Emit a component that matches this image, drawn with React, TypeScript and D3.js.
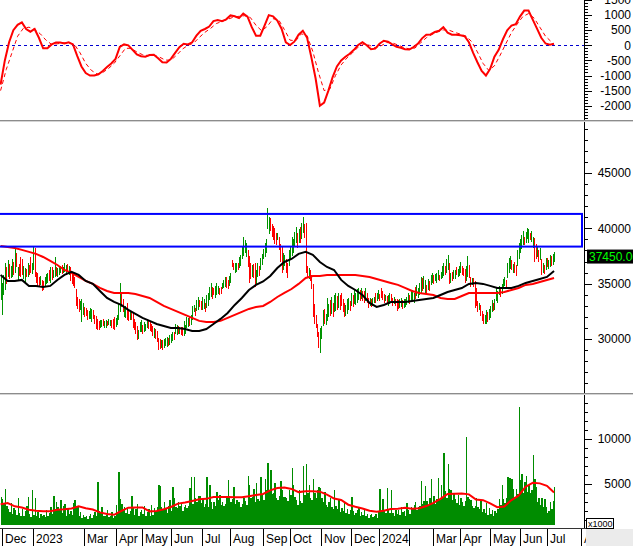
import React from "react";
import * as d3 from "d3";

// ---------- DATA ----------
// daily candles: lows / highs in hundreds of VND, direction g = up, r = down
const lows = [
  335,322,340,344,350,356,354,355,356,358, 360,365,353,357,356,358,354,351,356,356,
  358,360,359,362,356,351,347,347,349,343, 344,347,350,351,352,351,353,355,356,357,
  356,358,360,359,360,361,360,361,358,352, 350,348,346,330,327,324,326,315,322,320,
  321,317,318,318,315,318,314,309,308,308, 310,311,312,310,310,312,313,312,310,309,
  308,311,313,317,324,329,324,320,319,317, 316,317,317,310,308,305,299,300,306,306,
  305,306,307,310,309,307,306,303,301,300, 297,290,291,292,290,292,294,293,294,295,
  296,298,299,305,304,305,305,304,303,303, 305,310,311,312,313,317,324,321,325,326,
  329,326,326,327,324,328,330,335,338,336, 340,337,340,341,340,341,345,346,347,346,
  345,348,351,365,362,360,361,362,364,366, 372,375,378,374,365,351,354,356,355,347,
  350,356,357,362,367,372,374,378,399,395, 398,392,389,386,385,389,380,370,360,362,
  366,360,355,366,372,375,378,383,387,382, 387,387,390,396,391,360,355,354,352,345,
  320,314,310,302,292,287,300,312,314,313, 316,320,321,323,320,324,325,326,328,326,
  330,324,320,321,323,326,325,330,329,332, 331,333,335,334,336,334,333,334,333,328,
  330,329,330,333,333,334,336,334,337,335, 333,334,333,330,332,333,330,332,330,325,
  327,328,329,327,328,329,331,333,332,334, 335,333,336,339,337,340,342,343,345,341,
  342,344,343,349,351,350,352,351,353,352, 354,355,357,358,360,362,350,351,352,354,
  354,358,356,357,360,358,357,351,352,356, 355,347,349,347,328,330,324,326,321,316,
  314,314,314,315,317,319,324,325,326,334, 333,340,338,341,346,348,346,355,360,363,
  362,360,360,357,366,372,378,381,385,385, 387,390,387,389,388,382,370,372,374,370,
  371,358,360,359,362,365,363,365,366,367,370,
];
const highs = [
  356,351,358,369,365,371,368,366,372,370, 382,378,365,368,374,372,366,364,363,369,
  367,374,369,383,382,361,360,356,357,353, 352,356,359,360,362,365,365,362,374,365,
  364,366,366,367,365,369,367,368,366,365, 360,358,356,345,338,336,334,336,333,329,
  328,326,325,328,327,326,322,321,318,316, 317,317,318,316,317,316,318,317,317,318,
  320,319,322,333,351,342,336,329,330,333, 325,324,325,324,318,315,312,308,315,317,
  313,315,314,317,316,315,314,312,310,309, 307,301,300,299,299,300,301,302,301,304,
  305,306,306,314,313,312,311,311,311,316, 313,320,319,321,322,330,331,328,335,338,
  335,334,338,336,333,340,342,347,351,347, 346,348,351,348,346,347,351,353,356,356,
  353,357,360,371,369,369,369,369,374,376, 383,392,389,387,380,375,369,367,368,369,
  362,369,366,373,377,381,387,390,418,410, 409,404,402,400,396,396,392,386,383,378,
  376,372,369,380,384,392,390,397,401,396, 399,401,405,410,404,405,366,364,362,358,
  350,332,322,314,306,310,312,326,327,323, 337,332,335,338,333,340,342,339,342,340,
  342,336,333,331,336,337,334,342,340,344, 342,345,346,344,346,343,343,346,342,337,
  337,336,337,338,342,342,344,341,346,343, 341,340,339,340,342,341,337,338,336,336,
  335,336,337,335,336,336,338,342,340,343, 344,342,347,349,346,351,356,355,357,353,
  349,354,352,358,360,358,359,360,362,358, 361,366,369,366,372,376,369,360,361,362,
  362,365,363,366,370,366,364,363,366,375, 367,356,355,355,352,346,334,333,331,325,
  323,322,326,324,327,330,335,333,336,346, 343,348,345,350,354,356,353,369,373,375,
  371,368,370,367,380,387,390,394,398,392, 397,400,399,396,398,392,391,386,383,380,
  382,372,369,367,373,373,371,376,375,377,379,
];
const dirs =
  "ggggrgrggr" + "grgrrrggrg" + "rrggrrrrgr" + "rgggrgrggr" + "gggrgggrgr" +
  "rrrrrrgggr" + "rrgggrrrrr" + "ggrggrggrr" + "rggggrrggr" + "rgrrrrrggg" +
  "rgggrrrrgr" + "rrrgrgggrg" + "ggrggrgrrg" + "gggrgggrgg" + "rrggrggggr" +
  "rgggrrgggr" + "rggrrggrgg" + "ggggrrrgrr" + "ggrggggggg" + "rrrrrgrrrg" +
  "grrggggggr" + "grggrrrgrr" + "rrrrrgggrg" + "ggrgrggrgr" + "rrrgggrgrg" +
  "gggrgrrgrr" + "grggrggrrr" + "rgrggrrgrr" + "rggrggggrg" + "ggrggggrgg" +
  "rgrggrgggr" + "gggrggrgrg" + "grgggrrrgg" + "rrgrrrrgrr" + "rggrgggrgg" +
  "ggrgggrggg" + "rgrrgggggr" + "gggrggrrgr" + "grgrgrggrgg";
const lastClose = 37450;

// daily volume (x1000 shares)
const volumes = [
  3600,3300,2800,4500,2600,2200,1900,2900,1700,2300, 2100,1600,3500,1800,1500,2200,1400,2000,2600,3550,
  1700,1300,4330,1600,3500,1400,1900,1200,1700,1500, 1600,1300,2100,1500,1800,2400,1700,3650,2200,3000,
  2400,2100,3200,1800,2600,2800,1500,2200,1700,2000, 1600,2900,3200,2500,2600,1400,1900,1200,1600,1300,
  1500,1100,1400,1700,1200,1600,1900,1500,5200,2000, 1800,2500,1500,1400,1600,2100,1300,1500,1900,1200,
  1500,2700,1900,6360,3300,2800,2100,2500,1800,2200, 1700,2000,3700,2400,1600,2200,2800,1500,1900,2100,
  1700,2600,1500,1900,2200,1400,2700,1600,2300,1900, 2400,4890,4800,2500,2100,3000,2200,1800,2600,3200,
  2000,4660,3450,2500,2300,3000,2600,2900,2000,2400, 2700,2300,2600,4550,5770,2800,5810,3500,3000,3700,
  3700,2900,3400,2500,2800,5810,2400,4890,3000,2200, 3000,2600,4100,3200,3800,2700,3000,2600,2800,3400,
  5400,3700,3000,3300,4660,2800,3200,3000,3000,2500, 2800,3500,3100,2700,5920,4890,3500,3600,4400,3000,
  5070,3300,3100,5810,3800,3200,5600,4300,7290,4200, 6550,3900,4000,5100,3500,3200,3700,5370,4300,3600,
  3600,3400,3100,4300,3800,6770,4890,3600,3200,2700, 4300,3100,2900,7030,3800,7250,4000,4890,3500,3200,
  5550,4000,3500,4300,4700,4600,3500,3000,4100,2700, 2400,3000,3400,2500,2200,4330,2600,2200,3200,1900,
  2300,2000,3000,1800,2200,1700,2100,3580,2000,1600, 1800,2100,2500,1500,1900,1600,2100,1400,1700,1200,
  1600,1700,1300,1500,1700,1200,1900,4480,2000,3300, 2000,1800,4550,2200,1800,4280,1800,1500,2100,1700,
  2100,1600,2400,1900,2000,1500,2900,2100,1700,2500, 2200,2700,3000,2100,2500,2600,5370,2800,3100,4770,
  3100,2600,3500,5550,2900,3700,2800,3300,5700,3200, 4890,3600,8470,4200,3500,7250,4500,4300,3200,4000,
  3300,2900,3800,2700,3400,3000,2600,3100,10250,3600, 3300,3200,2600,2300,2550,3500,2400,2200,3200,1900,
  2200,1800,2900,1600,2300,1700,2100,1500,2000,1800, 2200,3300,2700,4880,3300,2900,3500,5810,5700,5700,
  5600,4440,3600,4400,3900,13570,5500,6140,4000,5200, 5900,4100,4900,4000,4300,8220,5600,4660,3030,3400,
  2700,3480,2500,3370,2400,1740,2000,3030,2200,3100,4630,
];

// moving averages, one value every 5 sessions
const maStep = 5;
const maBlack = [
  35790,35250,35250,35340,34800,34800,34710,34800,35340,35790,
  36060,35790,35250,34980,34340,33710,33350,33080,32630,32270,
  31910,31640,31360,31180,31000,31000,30910,30730,30730,30910,
  31360,31820,32360,33080,33710,34430,34890,35200,35700,36420,
  36960,37230,37690,37870,37600,36960,36510,36240,35340,34800,
  34430,33980,33260,32900,33080,33350,33350,33350,33440,33530,
  33620,33710,33980,34250,34430,34610,34980,35070,34980,34800,
  34610,34610,34610,34800,35070,35250,35430,35610,36150,
];
const maRed = [
  38410,38320,38230,38050,37870,37690,37410,37050,36690,36240,
  35970,35610,35250,34980,34620,34340,34160,34160,34160,34070,
  33890,33710,33350,32990,32720,32450,32180,31910,31640,31550,
  31550,31640,31910,32180,32450,32720,32900,32990,33350,33800,
  34160,34520,34980,35520,35700,35700,35790,35790,35790,35790,
  35790,35700,35610,35430,35250,35070,34890,34620,34340,34160,
  34070,33980,33710,33620,33620,33890,34160,34160,34160,34160,
  34160,34250,34430,34610,34890,34980,35160,35340,35520,
];
const volMa = [
  2750,2880,2520,2380,2150,2030,1980,1980,2150,2200,
  2280,2520,2300,2160,1850,1660,1580,2000,2370,2400,
  2400,1960,2000,2200,2450,2820,2950,3120,3310,3350,
  3550,3560,3550,3540,3540,3650,3770,3890,4300,4550,
  4600,4450,4100,4200,4200,4150,3830,3380,3220,2700,
  2480,2280,2020,1920,2030,2220,2260,2350,2240,2300,
  2550,2900,3350,3900,3930,3950,3850,3280,3200,2850,
  2420,2500,3220,3700,4700,5130,5070,4800,4050,
];

// oscillator (top panel): one value every 3 sessions, signal every 4
const oscStep = 3;
const oscillator = [
  -1300,-500,100,500,680,760,540,450,540,250,
  -100,-100,30,90,90,60,100,30,-350,-700,
  -920,-1000,-1000,-960,-850,-720,-600,-450,-50,30,
  0,-150,-300,-360,-380,-320,-310,-430,-560,-570,
  -450,-250,-60,50,30,100,320,480,540,620,
  800,840,800,860,990,960,900,1050,950,600,
  320,320,650,1000,960,820,550,100,10,120,
  350,480,250,-400,-1100,-2000,-1900,-1500,-1050,-700,
  -500,-380,-280,-150,10,100,0,-130,-110,50,
  150,120,30,-50,-80,-130,-140,-60,50,230,
  350,360,440,480,600,420,350,350,330,300,
  100,-250,-560,-850,-1000,-780,-380,-150,200,500,
  650,700,950,1150,1150,850,550,250,60,20,
  50,
];
const sigStep = 4;
const signal = [
  -1500,-800,-250,300,560,600,520,380,170,30,
  50,80,80,30,-250,-600,-830,-950,-900,-770,
  -600,-350,-100,-100,-220,-310,-340,-330,-390,-490,
  -490,-330,-130,0,70,260,430,560,720,790,
  860,930,960,980,920,660,480,630,880,840,
  520,170,150,380,320,-200,-900,-1500,-1450,-1000,
  -650,-420,-250,-60,40,0,-90,-20,90,80,
  10,-70,-120,-90,80,250,360,440,510,500,
  430,370,300,120,-220,-600,-830,-680,-330,50,
  420,700,950,1050,900,600,300,120,
];

// resistance zone (price)
const zoneTop = 41300;
const zoneBottom = 38350;

// x-axis month marks (session index of first day) and labels
const monthIdx = [1, 23, 59, 81, 100, 120, 142, 162, 185, 204, 226, 247, 267, 288, 305, 324, 345, 366, 385, 409];
const monthLbl = ["Dec", "2023", "Mar", "Apr", "May", "Jun", "Jul", "Aug", "Sep", "Oct", "Nov", "Dec", "2024", "", "Mar", "Apr", "May", "Jun", "Jul", "Aug"];

const oscLabels = [1500, 1000, 500, 0, -500, -1000, -1500, -2000];
const priceLabels = [30000, 35000, 40000, 45000];
const volLabels = [5000, 10000];

const FONT = "'Liberation Sans', Arial, sans-serif";
const GREEN = "#009400";
const VGREEN = "#008c00";
const RED = "#ff0000";
const AX = 584.5;

export default function App() {
  const x = d3.scaleLinear().domain([1, 409]).range([2, 581]);
  const yM = d3.scaleLinear().domain([-2407, 1500]).range([118, 0]);
  const yP = d3.scaleLinear().domain([25220, 49600]).range([392, 122]);
  const yV = d3.scaleLinear().domain([0, 14780]).range([529, 396]);

  const mk = (step: number, ys: d3.ScaleLinear<number, number>) =>
    d3.line<number>().x((_, k) => x(k * step)).y((d) => ys(d));

  const oscTicks = d3.range(-2400, 1501, 100);
  const priceTicks = d3.range(26000, 49001, 1000);
  const volTicks = d3.range(1000, 14001, 1000);

  return (
    <svg
      width={633}
      height={546}
      style={{ position: "fixed", left: 0, top: 0, background: "#fff" }}
      fontFamily={FONT}
    >
      <defs>
        <clipPath id="cTop"><rect x={0} y={0} width={584} height={120} /></clipPath>
        <clipPath id="cPrice"><rect x={0} y={122} width={584} height={271} /></clipPath>
        <clipPath id="cVol"><rect x={0} y={396} width={584} height={129} /></clipPath>
      </defs>
      <rect x={0} y={0} width={633} height={546} fill="#fff" />

      {/* ---------- top oscillator ---------- */}
      <g clipPath="url(#cTop)">
        <line x1={0} x2={584} y1={Math.round(yM(0)) + 0.5} y2={Math.round(yM(0)) + 0.5}
          stroke="#0000d0" strokeWidth={1} strokeDasharray="3,3" />
        <path d={mk(sigStep, yM)(signal) || ""} fill="none" stroke={RED} strokeWidth={1} strokeDasharray="4,3" />
        <path d={mk(oscStep, yM)(oscillator) || ""} fill="none" stroke={RED} strokeWidth={2} />
      </g>

      {/* ---------- price panel ---------- */}
      <g clipPath="url(#cPrice)" shapeRendering="crispEdges">
        {lows.map((lo, i) => {
          const yTop = yP(highs[i] * 100);
          const yBot = yP(lo * 100);
          return (
            <rect key={i} x={Math.round(x(i))} y={yTop} width={1} height={Math.max(1, yBot - yTop)}
              fill={dirs[i] === "g" ? GREEN : RED} />
          );
        })}
      </g>
      <g clipPath="url(#cPrice)">
        <path d={mk(maStep, yP)(maRed) || ""} fill="none" stroke={RED} strokeWidth={2} />
        <path d={mk(maStep, yP)(maBlack) || ""} fill="none" stroke="#000" strokeWidth={2} />
        <rect x={-3} y={yP(zoneTop)} width={585} height={yP(zoneBottom) - yP(zoneTop)}
          fill="none" stroke="#0000ff" strokeWidth={2} />
      </g>

      {/* ---------- volume panel ---------- */}
      <g clipPath="url(#cVol)" shapeRendering="crispEdges">
        {volumes.map((v, i) => {
          const x0 = Math.round(x(i));
          const x1 = Math.round(x(i + 1));
          return (
            <rect key={i} x={x0} y={yV(v)} width={Math.max(1, x1 - x0)} height={525 - yV(v)} fill={VGREEN} />
          );
        })}
      </g>
      <g clipPath="url(#cVol)">
        <path d={mk(maStep, yV)(volMa) || ""} fill="none" stroke={RED} strokeWidth={2} />
      </g>

      {/* ---------- right axes ---------- */}
      <g stroke="#000" strokeWidth={1} shapeRendering="crispEdges">
        <line x1={AX} x2={AX} y1={0} y2={120} />
        <line x1={AX} x2={AX} y1={122} y2={393} />
        <line x1={AX} x2={AX} y1={395} y2={529} />
        {oscTicks.map((v) => (
          <line key={"o" + v} x1={AX} x2={v % 500 === 0 ? 592 : 588}
            y1={Math.round(yM(v)) + 0.5} y2={Math.round(yM(v)) + 0.5} />
        ))}
        {priceTicks.map((v) => (
          <line key={"p" + v} x1={AX} x2={v % 5000 === 0 ? 592 : 588}
            y1={Math.round(yP(v)) + 0.5} y2={Math.round(yP(v)) + 0.5} />
        ))}
        {volTicks.map((v) => (
          <line key={"v" + v} x1={AX} x2={v % 5000 === 0 ? 592 : 588}
            y1={Math.round(yV(v)) + 0.5} y2={Math.round(yV(v)) + 0.5} />
        ))}
      </g>
      <g fontSize={12} fill="#000" textAnchor="end">
        {oscLabels.map((v) => (
          <text key={"ol" + v} x={631} y={yM(v)} dy="0.35em">{v}</text>
        ))}
        {priceLabels.map((v) => (
          <text key={"pl" + v} x={631} y={yP(v)} dy="0.35em">{v}</text>
        ))}
        {volLabels.map((v) => (
          <text key={"vl" + v} x={631} y={yV(v)} dy="0.35em">{v}</text>
        ))}
      </g>

      {/* last price tag */}
      <rect x={587} y={yP(lastClose) - 7} width={46} height={14} fill="#000" />
      <text x={589} y={yP(lastClose)} dy="0.36em" fontSize={12} fill="#00ff00">
        {lastClose.toFixed(2)}
      </text>

      {/* panel separators */}
      <rect x={0} y={120} width={633} height={1} fill="#8c8c8c" />
      <rect x={0} y={121} width={633} height={1} fill="#d4d4d4" />
      <rect x={0} y={393} width={633} height={1} fill="#8c8c8c" />
      <rect x={0} y={394} width={633} height={1} fill="#d4d4d4" />

      {/* ---------- x axis ---------- */}
      <line x1={0} x2={586} y1={528.5} y2={528.5} stroke="#333" strokeWidth={1} />
      <g shapeRendering="crispEdges">
        {monthIdx.map((m, k) => (
          <line key={"m" + k} x1={Math.round(x(m)) + 0.5} x2={Math.round(x(m)) + 0.5} y1={529} y2={546}
            stroke="#000" strokeWidth={1} />
        ))}
      </g>
      <g fontSize={12} fill="#000">
        {monthIdx.map((m, k) => (
          <text key={"t" + k} x={Math.round(x(m)) + 3} y={543}>{monthLbl[k]}</text>
        ))}
      </g>
      <rect x={586} y={529} width={47} height={17} fill="#ebebeb" />
      <rect x={586.5} y={518.5} width={27} height={10} fill="#fff" stroke="#000" strokeWidth={1} />
      <text x={588} y={527} fontSize={9} fill="#000">x1000</text>
    </svg>
  );
}
